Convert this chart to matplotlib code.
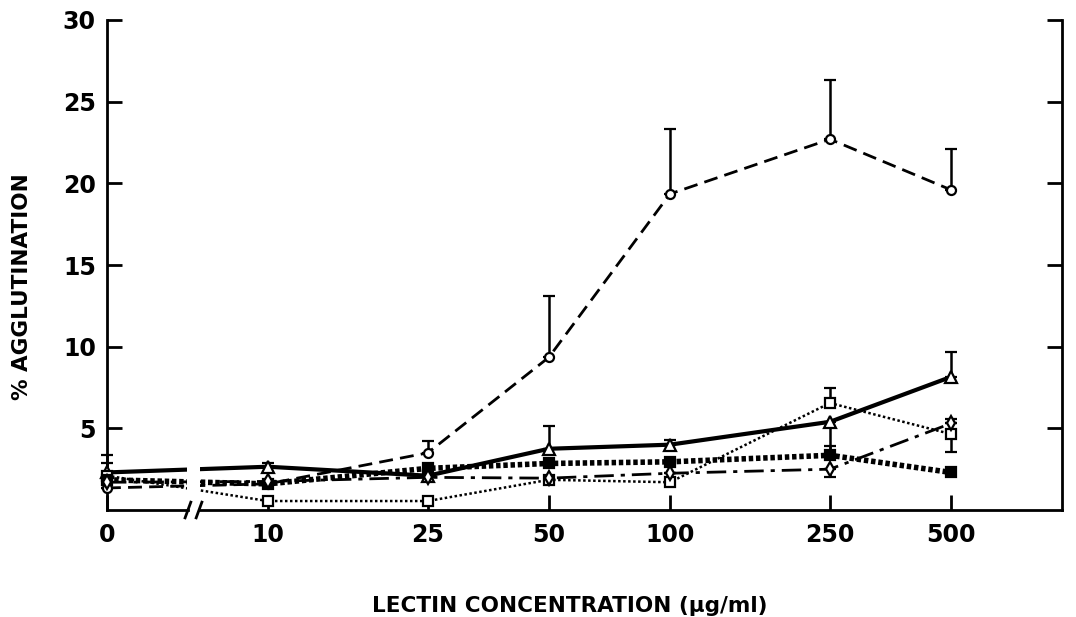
import numpy as np
import matplotlib
matplotlib.use('Agg')
import matplotlib.pyplot as plt
from matplotlib.patches import Rectangle

# concentrations (ug/ml)
conc = [0, 10, 25, 50, 100, 250, 500]
tick_labels = ['0', '10', '25', '50', '100', '250', '500']
y_ticks = [5, 10, 15, 20, 25, 30]

# open circles, dashed
circ = [1.35, 1.6, 3.5, 9.35, 19.35, 22.7, 19.6]
circ_up = [0, 0, 0.7, 3.75, 3.95, 3.65, 2.5]

# open triangles, thick solid
tri = [2.3, 2.65, 2.1, 3.75, 4.0, 5.4, 8.15]
tri_up = [0, 0.25, 0, 1.4, 0.3, 0, 1.5]
tri_lo = [0, 0, 0, 0, 0, 2.1, 0]

# open squares, thin dotted
osq = [2.1, 0.55, 0.55, 1.85, 1.7, 6.55, 4.65]
osq_up = [1.25, 0, 0, 0, 0, 0.95, 0.95]
osq_lo = [0, 0, 0, 0, 0, 0, 1.1]

# filled squares, heavy dotted
fsq = [1.85, 1.6, 2.55, 2.85, 2.95, 3.35, 2.3]
fsq_up = [1.05, 0, 0, 0.3, 0, 0.55, 0]

# open diamonds, dash-dot
dia = [1.7, 1.75, 2.0, 1.95, 2.25, 2.5, 5.3]
dia_lo = [0, 0, 0, 0, 0, 0.5, 0]


# broken axis: linear stretch for 0..10, log above
def fwd(x):
    x = np.asarray(x, dtype=float)
    return np.where(x < 10, 1 - (10 - x) * 0.04, np.log10(np.maximum(x, 10)))


def inv(y):
    y = np.asarray(y, dtype=float)
    return np.where(y < 1, 10 - (1 - y) / 0.04, 10 ** np.maximum(y, 1))


fig = plt.figure(figsize=(10.76, 6.17), dpi=100)
ax = fig.add_axes([0.0994, 0.1734, 0.8876, 0.7942])
ax.set_xscale('function', functions=(fwd, inv))
ax.set_xlim(0, 10 ** 2.975)
ax.set_ylim(0, 30)

k = 'black'
ax.errorbar(conc, circ, yerr=[np.zeros(7), circ_up], color=k, lw=2, dashes=(5, 2.6),
            marker='o', ms=6.5, mfc='white', mew=1.6, ecolor=k, elinewidth=1.8,
            capsize=4, capthick=1.8, clip_on=False, zorder=3)
ax.errorbar(conc, tri, yerr=[tri_lo, tri_up], color=k, lw=3, ls='-',
            marker='^', ms=8.5, mfc='white', mew=1.6, ecolor=k, elinewidth=1.8,
            capsize=4, capthick=1.8, clip_on=False, zorder=3)
ax.errorbar(conc, osq, yerr=[osq_lo, osq_up], color=k, lw=1.8, ls=(0, (1, 1)),
            marker='s', ms=7, mfc='white', mew=1.6, ecolor=k, elinewidth=1.8,
            capsize=4, capthick=1.8, clip_on=False, zorder=3)
ax.errorbar(conc, fsq, yerr=[np.zeros(7), fsq_up], color=k, lw=4, ls=(0, (0.8, 0.5)),
            marker='s', ms=7, mfc=k, mew=1.6, ecolor=k, elinewidth=1.8,
            capsize=4, capthick=1.8, clip_on=False, zorder=3)
ax.errorbar(conc, dia, yerr=[dia_lo, np.zeros(7)], color=k, lw=2, ls=(0, (7, 2.5, 1.5, 2.5)),
            marker='d', ms=7, mfc='white', mew=1.6, ecolor=k, elinewidth=1.8,
            capsize=4, capthick=1.8, clip_on=False, zorder=3)

# spines
ax.spines['top'].set_visible(False)
ax.spines['bottom'].set_visible(False)
for s in ['left', 'right']:
    ax.spines[s].set_linewidth(2)

# bottom axis drawn in two pieces with a break
g0, g1 = 0.0838, 0.0974
ax.plot([0, g0 + 0.001], [0, 0], color=k, lw=2, transform=ax.transAxes, clip_on=False, zorder=6)
ax.plot([g1 - 0.001, 1], [0, 0], color=k, lw=2, transform=ax.transAxes, clip_on=False, zorder=6)
ax.add_patch(Rectangle((g0, 0.003), g1 - g0, 0.25, transform=ax.transAxes,
                       facecolor='white', edgecolor='none', zorder=5, clip_on=False))
for gx in (g0 + 0.001, g1 - 0.001):
    ax.plot([gx - 0.003, gx + 0.003], [-0.016, 0.016], color=k, lw=2,
            transform=ax.transAxes, clip_on=False, zorder=6)

ax.set_xticks(conc)
ax.set_xticklabels(tick_labels)
ax.xaxis.set_minor_locator(matplotlib.ticker.NullLocator())
ax.set_yticks(y_ticks)
ax.tick_params(axis='y', direction='in', length=11, width=2, left=True, right=True,
               labelsize=17, pad=8)
ax.tick_params(axis='x', direction='in', length=11, width=2, labelsize=17, pad=9)
for t in ax.get_xticklabels() + ax.get_yticklabels():
    t.set_fontweight('bold')

ax.set_xlabel('LECTIN CONCENTRATION (\u00b5g/ml)', fontsize=15.5, fontweight='bold')
ax.set_ylabel('% AGGLUTINATION', fontsize=15.5, fontweight='bold')
ax.xaxis.set_label_coords(0.485, -0.176)
ax.yaxis.set_label_coords(-0.078, 0.455)

fig.savefig('out.png', dpi=100)
